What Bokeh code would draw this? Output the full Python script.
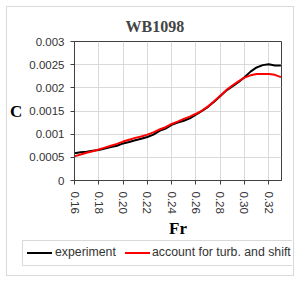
from bokeh.plotting import figure
from bokeh.layouts import column
from bokeh.models import FixedTicker, Range1d, CustomJSTickFormatter, Div
from bokeh.embed import file_html
from bokeh.resources import INLINE

# ---- data ----
fr = [0.160, 0.165, 0.170, 0.175, 0.180, 0.185, 0.190, 0.195, 0.200, 0.205,
      0.210, 0.215, 0.220, 0.225, 0.230, 0.235, 0.240, 0.245, 0.250, 0.255,
      0.260, 0.265, 0.270, 0.275, 0.280, 0.285, 0.290, 0.295, 0.300, 0.305,
      0.310, 0.315, 0.320, 0.325, 0.330]
experiment = [0.00059, 0.00061, 0.00062, 0.00064, 0.00066, 0.00069, 0.00072, 0.00075, 0.00080, 0.00083,
              0.00087, 0.00090, 0.00094, 0.00099, 0.00107, 0.00112, 0.00120, 0.00125, 0.00129, 0.00134,
              0.00142, 0.00150, 0.00159, 0.00170, 0.00182, 0.00194, 0.00203, 0.00212, 0.00223, 0.00235,
              0.00244, 0.00249, 0.00251, 0.00248, 0.00248]
turb_shift = [0.00052, 0.00056, 0.00060, 0.00063, 0.00067, 0.00071, 0.00075, 0.00079, 0.00084, 0.00088,
              0.00092, 0.00095, 0.00099, 0.00104, 0.00110, 0.00115, 0.00122, 0.00127, 0.00133, 0.00138,
              0.00144, 0.00151, 0.00160, 0.00171, 0.00183, 0.00195, 0.00205, 0.00214, 0.00222, 0.00227,
              0.00230, 0.00230, 0.00230, 0.00228, 0.00223]
x_ticks = [0.16, 0.18, 0.20, 0.22, 0.24, 0.26, 0.28, 0.30, 0.32]
y_ticks = [0, 0.0005, 0.001, 0.0015, 0.002, 0.0025, 0.003]
title_text = "WB1098"
x_label = "Fr"
y_label = "C"
series_names = ["experiment", "account for turb. and shift"]
series_colors = ["black", "#ff0000"]

p = figure(frame_width=207, frame_height=139,
           min_border_left=66, min_border_right=12, min_border_top=34, min_border_bottom=57,
           x_range=Range1d(0.16, 0.3305), y_range=Range1d(0, 0.003),
           output_backend="svg", toolbar_location=None)
p.background_fill_color = "white"
p.border_fill_color = "white"
p.outline_line_color = "#404040"
p.outline_line_width = 1

p.title.text = title_text
p.title.text_font = "Liberation Serif"
p.title.text_font_style = "bold"
p.title.text_font_size = "16px"
p.title.align = "left"
p.title.offset = 51
p.title.standoff = 14

for ax in (p.xaxis[0], p.yaxis[0]):
    ax.major_label_text_font = "Liberation Sans"
    ax.major_label_text_font_size = "11.5px"
    ax.major_label_text_color = "#333333"
    ax.major_tick_out = 4
    ax.major_tick_in = 0
    ax.minor_tick_out = 0
    ax.minor_tick_in = 0
    ax.major_tick_line_color = "#404040"
    ax.axis_line_color = "#404040"
    ax.axis_label_text_font = "Liberation Serif"
    ax.axis_label_text_font_style = "bold"
    ax.axis_label_text_font_size = "17px"
    ax.axis_label_text_color = "black"

p.xaxis.ticker = FixedTicker(ticks=x_ticks)
p.yaxis.ticker = FixedTicker(ticks=y_ticks)
p.xaxis.formatter = CustomJSTickFormatter(code="return tick.toFixed(2);")
p.yaxis.formatter = CustomJSTickFormatter(code="return (Math.round(tick*10000)/10000).toString();")
p.xaxis.major_label_orientation = "vertical"
p.xaxis.major_label_standoff = 7
p.yaxis.major_label_standoff = 6
p.xaxis.axis_label = x_label
p.xaxis.axis_label_standoff = 2
p.yaxis.axis_label = y_label
p.yaxis.axis_label_orientation = "horizontal"
p.yaxis.axis_label_standoff = 4

p.xgrid.ticker = FixedTicker(ticks=x_ticks)
p.ygrid.ticker = FixedTicker(ticks=y_ticks)
p.grid.grid_line_color = "#d9d9d9"
p.grid.grid_line_width = 1

p.line(fr, experiment, line_color=series_colors[0], line_width=2)
p.line(fr, turb_shift, line_color=series_colors[1], line_width=2)

# legend strip below the plot (full chart width, like the original)
key_x = [4, 102]      # legend key positions inside the legend box
txt_x = [32, 129]
items = "".join(
    f'<span style="position:absolute;left:{kx}px;top:11px;width:25px;height:2px;background:{c};"></span>'
    f'<span style="position:absolute;left:{tx}px;top:3px;line-height:16px;">{n}</span>'
    for kx, tx, c, n in zip(key_x, txt_x, series_colors, series_names))
legend_html = (
    '<div style="position:relative;width:285px;height:35px;overflow:hidden;'
    'font-family:\'Liberation Sans\',Arial,sans-serif;font-size:12.3px;color:#333333;white-space:nowrap;">'
    '<div style="position:absolute;left:15px;top:0px;width:290px;height:26px;border:1px solid #d9d9d9;">'
    + items + '</div></div>')
leg = Div(text=legend_html, width=285, height=35, margin=0,
          styles={"overflow": "hidden"})

root = column(p, leg, spacing=0, margin=(6, 0, 0, 6),
              styles={"border": "1px solid #d9d9d9"})

open("out.html", "w").write(file_html(root, INLINE))
